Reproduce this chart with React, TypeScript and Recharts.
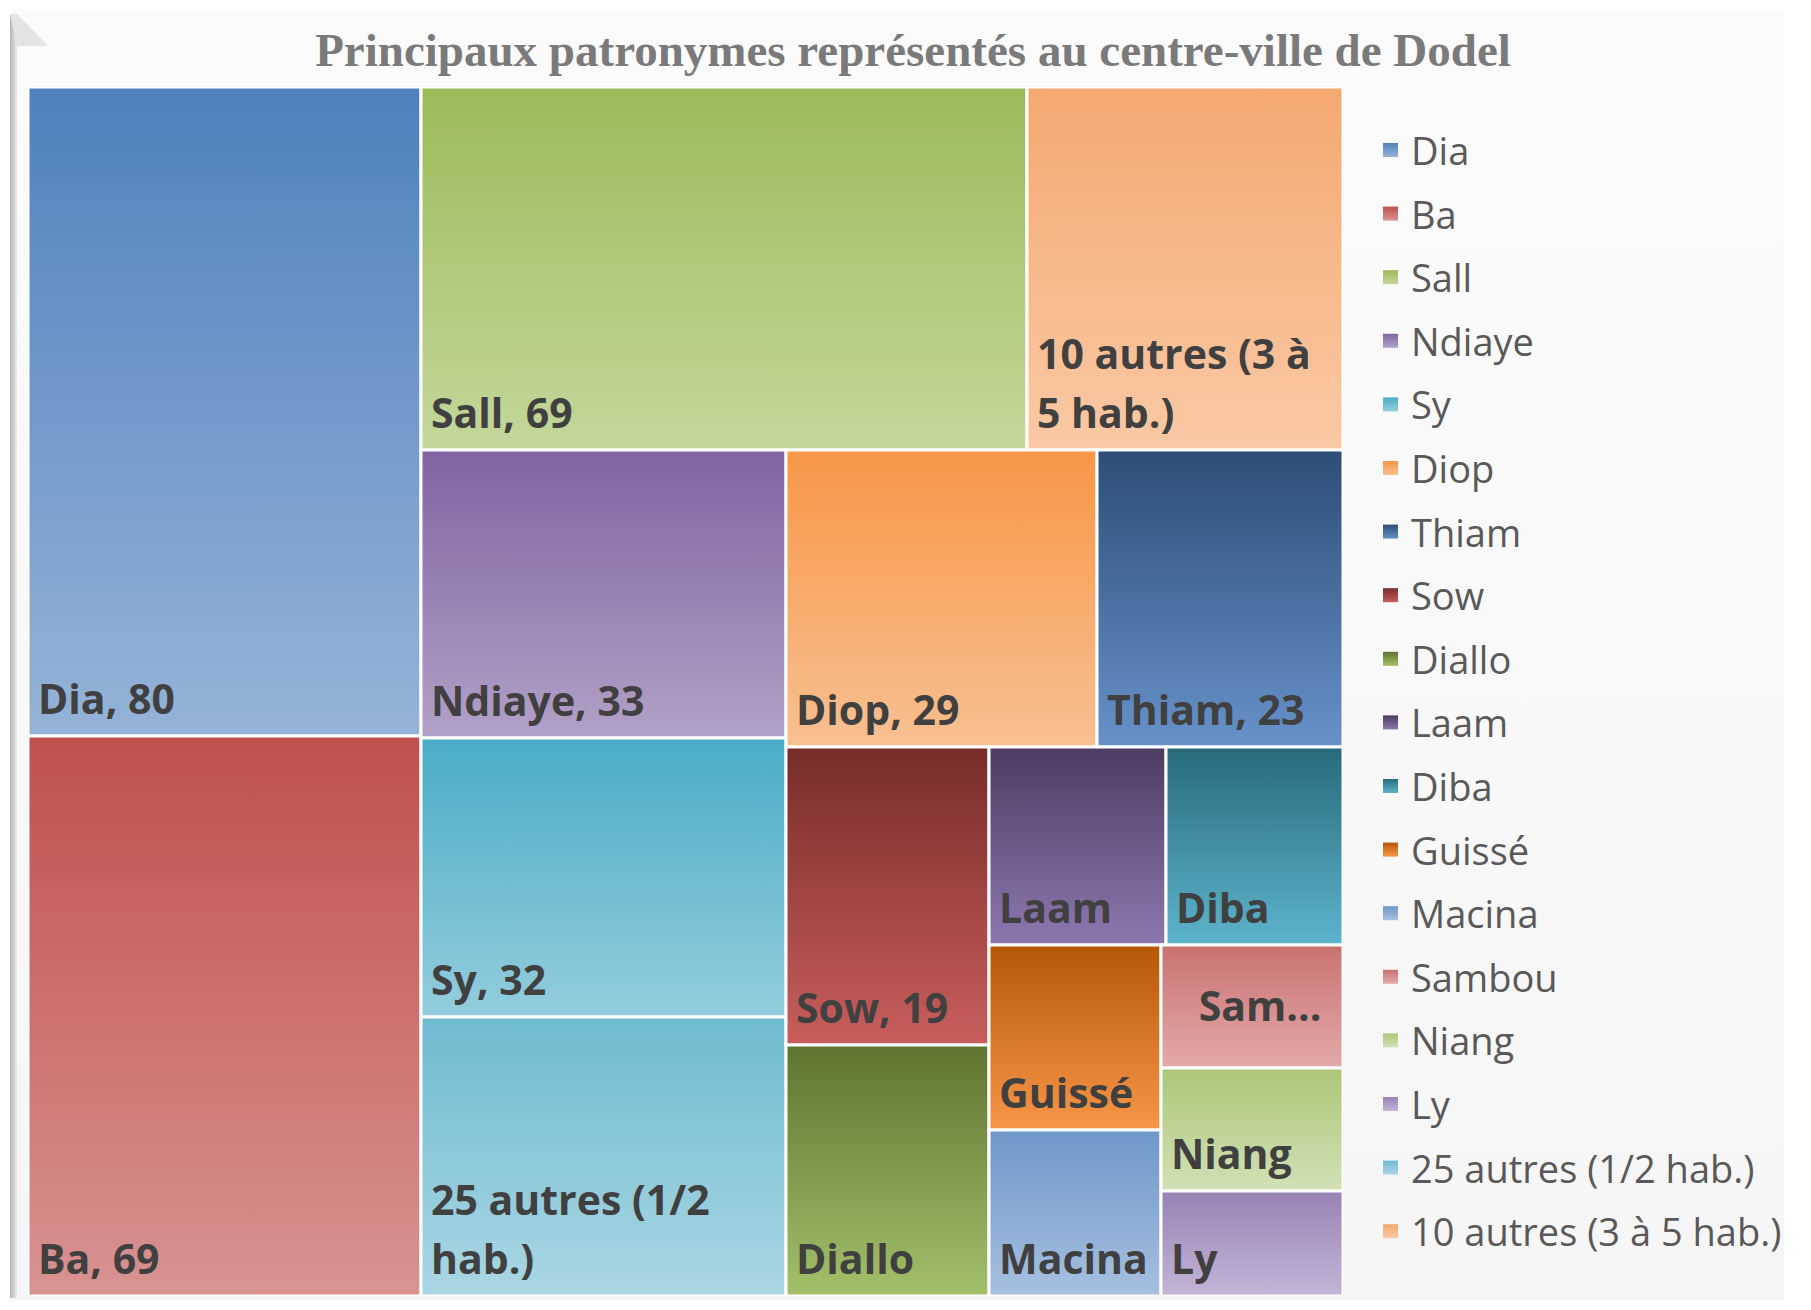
import React from 'react';
import { Treemap } from 'recharts';

// ---- data (legend / sheet order) ----
const title = 'Principaux patronymes représentés au centre-ville de Dodel';
const names = [
  'Dia', 'Ba', 'Sall', 'Ndiaye', 'Sy', 'Diop', 'Thiam', 'Sow', 'Diallo',
  'Laam', 'Diba', 'Guissé', 'Macina', 'Sambou', 'Niang', 'Ly',
  '25 autres (1/2 hab.)', '10 autres (3 à 5 hab.)',
];
const values = [80, 69, 69, 33, 32, 29, 23, 19, 16, 11, 11, 10, 9, 7, 7, 6, 32, 36];

// ---- styles ----
const topColors = [
  '#4F81BD', '#C0504D', '#9BBB59', '#8064A2', '#4BACC6', '#F79646', '#2C4D75', '#772C2A', '#5E7431',
  '#4D3B62', '#276A7C', '#B65708', '#6F97C8', '#C97270', '#ACC678', '#9882B5',
  '#6EBBD0', '#F4A870',
];
const bottomColors = [
  '#95B3D7', '#D89391', '#C4D79B', '#B2A1C7', '#93CDDD', '#F8C092', '#6792CA', '#C85E5C', '#A3C06A',
  '#8E78B0', '#5DB4CC', '#F79646', '#A7C0E0', '#E3AAAA', '#D2E1B5', '#C3B5D6',
  '#AAD6E3', '#FAC9A5',
];

const W = 1811;
const H = 1310;
const TM_X = 28;
const TM_Y = 87;
const TM_W = 1315;
const TM_H = 1209;

const LABEL_FS = 41;
const LABEL_FONT = `bold ${LABEL_FS}px "Open Sans"`;
const PAD = 20;
const LINE_H = 59;

// Excel orders treemap cells by value (stable)
const order = names.map((_, i) => i).sort((a, b) => values[b] - values[a]);
const treeData = order.map((i) => ({ name: names[i], value: values[i], colorIndex: i }));

let ctx: CanvasRenderingContext2D | null = null;
function measure(text: string): number {
  if (!ctx) ctx = document.createElement('canvas').getContext('2d');
  if (!ctx) return text.length * LABEL_FS * 0.55;
  ctx.font = LABEL_FONT;
  return ctx.measureText(text).width;
}

function CellContent(props: any) {
  const { x, y, width, height, depth, name, value } = props;
  if (depth !== 1) return null;
  const ci = names.indexOf(name);
  const maxW = width - PAD;
  const withValue = `${name}, ${value}`;
  let lines: string[] = [];
  let centered = false;
  if (height >= 150 && measure(withValue) <= maxW) {
    lines = [withValue];
  } else {
    const words = String(name).split(' ');
    let cur = '';
    for (const w of words) {
      const t = cur ? cur + ' ' + w : w;
      if (!cur || measure(t) <= maxW) cur = t;
      else {
        lines.push(cur);
        cur = w;
      }
    }
    lines.push(cur);
    if (lines.length === 1 && measure(lines[0]) > maxW) {
      let s = String(name);
      while (s.length > 1 && measure(s + '...') > width - 2 * PAD) s = s.slice(0, -1);
      lines = [s + '...'];
      centered = true;
    }
  }
  const gid = `cellgrad${ci}`;
  return (
    <g>
      <defs>
        <linearGradient id={gid} x1="0" y1="0" x2="0" y2="1">
          <stop offset="0%" stopColor={topColors[ci]} />
          <stop offset="100%" stopColor={bottomColors[ci]} />
        </linearGradient>
      </defs>
      <rect x={x} y={y} width={width} height={height} fill={`url(#${gid})`} stroke="#FFFFFF" strokeWidth={3} />
      {centered ? (
        <text
          x={x + width / 2 + 8}
          y={y + height / 2 + LABEL_FS * 0.36}
          textAnchor="middle"
          fontFamily='"Open Sans"'
          fontWeight="bold"
          fontSize={LABEL_FS}
          fill="#404040"
        >
          {lines[0]}
        </text>
      ) : (
        <text fontFamily='"Open Sans"' fontWeight="bold" fontSize={LABEL_FS} fill="#404040">
          {lines.map((l, i) => (
            <tspan key={i} x={x + 10} y={y + height - 22 - (lines.length - 1 - i) * LINE_H}>
              {l}
            </tspan>
          ))}
        </text>
      )}
    </g>
  );
}

const LEG_X = 1383;
const LEG_TEXT_X = 1411;
const LEG_Y0 = 152;
const LEG_STEP = 63.6;

export default function App() {
  return (
    <div style={{ position: 'absolute', left: 0, top: 0, width: W, height: H, background: '#FFFFFF', overflow: 'hidden' }}>
      <svg width={W} height={H} style={{ position: 'absolute', left: 0, top: 0 }}>
        <defs>
          <linearGradient id="leftbevel" x1="0" y1="0" x2="1" y2="0">
            <stop offset="0%" stopColor="#B5B5B5" />
            <stop offset="100%" stopColor="#EAEAEA" />
          </linearGradient>
          <linearGradient id="panelfill" x1="0" y1="0" x2="0" y2="1">
            <stop offset="0%" stopColor="#FBFBFB" />
            <stop offset="100%" stopColor="#F6F6F6" />
          </linearGradient>
          {names.map((_, i) => (
            <linearGradient key={i} id={`leggrad${i}`} x1="0" y1="0" x2="0" y2="1">
              <stop offset="0%" stopColor={topColors[i]} />
              <stop offset="100%" stopColor={bottomColors[i]} />
            </linearGradient>
          ))}
        </defs>
        <rect x={12} y={10} width={1772} height={1290} fill="url(#panelfill)" />
        <rect x={10} y={14} width={7} height={1284} fill="url(#leftbevel)" />
        <polygon points="10,14 17,14 48,46 17,46" fill="#E4E4E4" />
        <text
          x={913}
          y={66}
          textAnchor="middle"
          fontFamily='"Liberation Serif", serif'
          fontWeight="bold"
          fontSize={47}
          fill="#7A7A7A"
        >
          {title}
        </text>
        {names.map((n, i) => {
          const cy = LEG_Y0 + i * LEG_STEP;
          return (
            <g key={n}>
              <rect x={LEG_X} y={cy - 9} width={15} height={14} fill={`url(#leggrad${i})`} />
              <text x={LEG_TEXT_X} y={cy + 13} fontFamily='"Open Sans"' fontSize={38} fill="#595959">
                {n}
              </text>
            </g>
          );
        })}
      </svg>
      <div style={{ position: 'absolute', left: TM_X, top: TM_Y, width: TM_W, height: TM_H }}>
        <Treemap
          width={TM_W}
          height={TM_H}
          data={treeData}
          dataKey="value"
          nameKey="name"
          aspectRatio={0.9}
          isAnimationActive={false}
          content={(p: any) => <CellContent {...p} />}
        />
      </div>
    </div>
  );
}
